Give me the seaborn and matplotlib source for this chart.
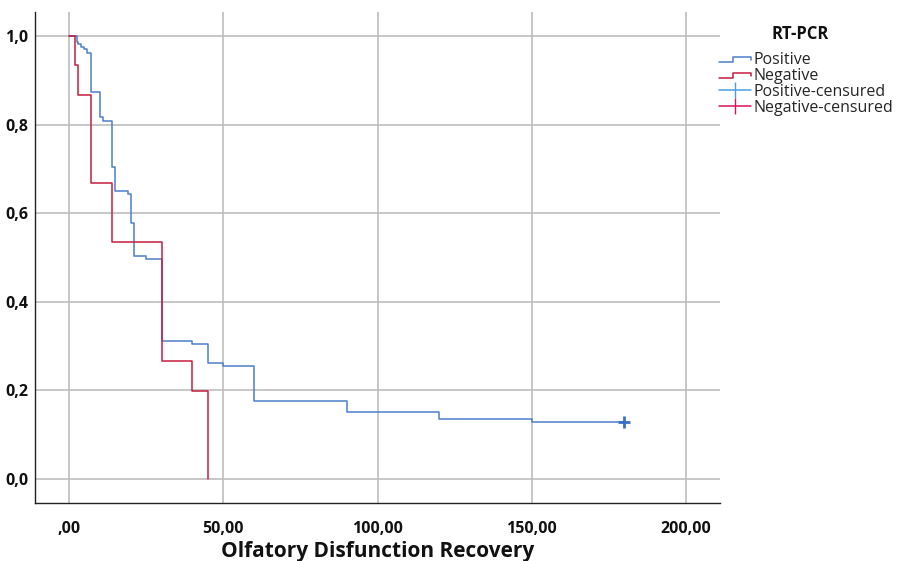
import matplotlib
matplotlib.use("Agg")
import matplotlib.pyplot as plt
import seaborn as sns
import pandas as pd
from matplotlib.lines import Line2D
from matplotlib.legend_handler import HandlerBase
from matplotlib.ticker import FuncFormatter, MultipleLocator

# значения кривых Каплана-Мейера
pos_time = [0, 2.5, 3, 4, 5, 6, 7, 10, 11, 14, 15, 19, 20, 21, 25, 30, 40, 45, 50, 60, 90, 120, 150, 180]
pos_surv = [1.0, 0.987, 0.982, 0.976, 0.970, 0.962, 0.874, 0.816, 0.809, 0.705, 0.649, 0.643, 0.577,
            0.503, 0.496, 0.312, 0.304, 0.263, 0.256, 0.176, 0.152, 0.135, 0.128, 0.128]
neg_time = [0, 2, 3, 7, 14, 30, 40, 45]
neg_surv = [1.0, 0.934, 0.867, 0.668, 0.535, 0.266, 0.199, 0.0]
censored_time = [180]
censored_surv = [0.128]

groups = ["Positive", "Negative", "Positive-censured", "Negative-censured"]
blue = "#4D7EC9"
red = "#C51D3F"
blue_light = "#4AA0DD"
red_light = "#D8145A"

sns.set_style("white")
plt.rcParams["font.family"] = ["Open Sans", "DejaVu Sans"]

df_pos = pd.DataFrame({"time": pos_time, "surv": pos_surv})
df_neg = pd.DataFrame({"time": neg_time, "surv": neg_surv})

fig = plt.figure(figsize=(8.99, 5.61), dpi=100)
ax = fig.add_axes([35 / 899, 1 - 503 / 561, 685 / 899, 491 / 561])

sns.lineplot(data=df_pos, x="time", y="surv", drawstyle="steps-post", estimator=None, sort=False,
             color=blue, lw=1.1, ax=ax, zorder=3)
sns.lineplot(data=df_neg, x="time", y="surv", drawstyle="steps-post", estimator=None, sort=False,
             color=red, lw=1.1, ax=ax, zorder=4)
sns.scatterplot(x=censored_time, y=censored_surv, marker="+", s=70, color="#3B6FC2", linewidth=2,
                ax=ax, zorder=5)

ax.set_xlim(-11, 211)
ax.set_ylim(-0.054, 1.054)
ax.xaxis.set_major_locator(MultipleLocator(50))
ax.yaxis.set_major_locator(MultipleLocator(0.2))
ax.xaxis.set_major_formatter(FuncFormatter(lambda v, p: ",00" if v == 0 else f"{v:.2f}".replace(".", ",")))
ax.yaxis.set_major_formatter(FuncFormatter(lambda v, p: f"{v:.1f}".replace(".", ",")))
ax.grid(True, color="#BDBDBD", lw=1.2)
ax.set_axisbelow(True)
for side in ["top", "right"]:
    ax.spines[side].set_visible(False)
for side in ["left", "bottom"]:
    ax.spines[side].set_color("#222222")
    ax.spines[side].set_linewidth(1.0)
ax.tick_params(axis="x", length=0, pad=13, labelsize=11.5, labelcolor="#111111")
ax.tick_params(axis="y", length=0, pad=5, labelsize=11.5, labelcolor="#111111")
for lab in ax.get_xticklabels() + ax.get_yticklabels():
    lab.set_fontweight("bold")
ax.set_ylabel("")
ax.set_xlabel("Olfatory Disfunction Recovery", fontsize=15, fontweight="bold", color="#111111")
ax.xaxis.set_label_coords(0.5, -49 / 491)
ax.xaxis.label.set_va("center")


# значок ступеньки для легенды
class StepHandler(HandlerBase):
    def create_artists(self, legend, orig_handle, xdescent, ydescent, width, height, fontsize, trans):
        xs = [0, 0.45 * width, 0.45 * width, width, width]
        ys = [0.2 * height, 0.2 * height, 0.6 * height, 0.6 * height, 0.4 * height]
        line = Line2D([x - xdescent for x in xs], [y - ydescent for y in ys],
                      color=orig_handle.get_color(), lw=1.1, transform=trans)
        return [line]


handles = [
    Line2D([], [], color=blue),
    Line2D([], [], color=red),
    Line2D([], [], color=blue_light, marker="|", markersize=11, lw=1.1),
    Line2D([], [], color=red_light, marker="|", markersize=11, lw=1.1),
]
leg = fig.legend(handles, groups, loc="upper left", bbox_to_anchor=(719 / 899, 1 - 52 / 561),
                 frameon=False, fontsize=11.5, handlelength=2.0, handletextpad=0.15,
                 labelspacing=0.0, borderaxespad=0, borderpad=0, numpoints=1,
                 handler_map={handles[0]: StepHandler(), handles[1]: StepHandler()})
fig.text(800 / 899, 1 - 34 / 561, "RT-PCR", ha="center", va="center", fontsize=12, fontweight="bold",
         color="#111111")

plt.savefig("out.png", dpi=100)
